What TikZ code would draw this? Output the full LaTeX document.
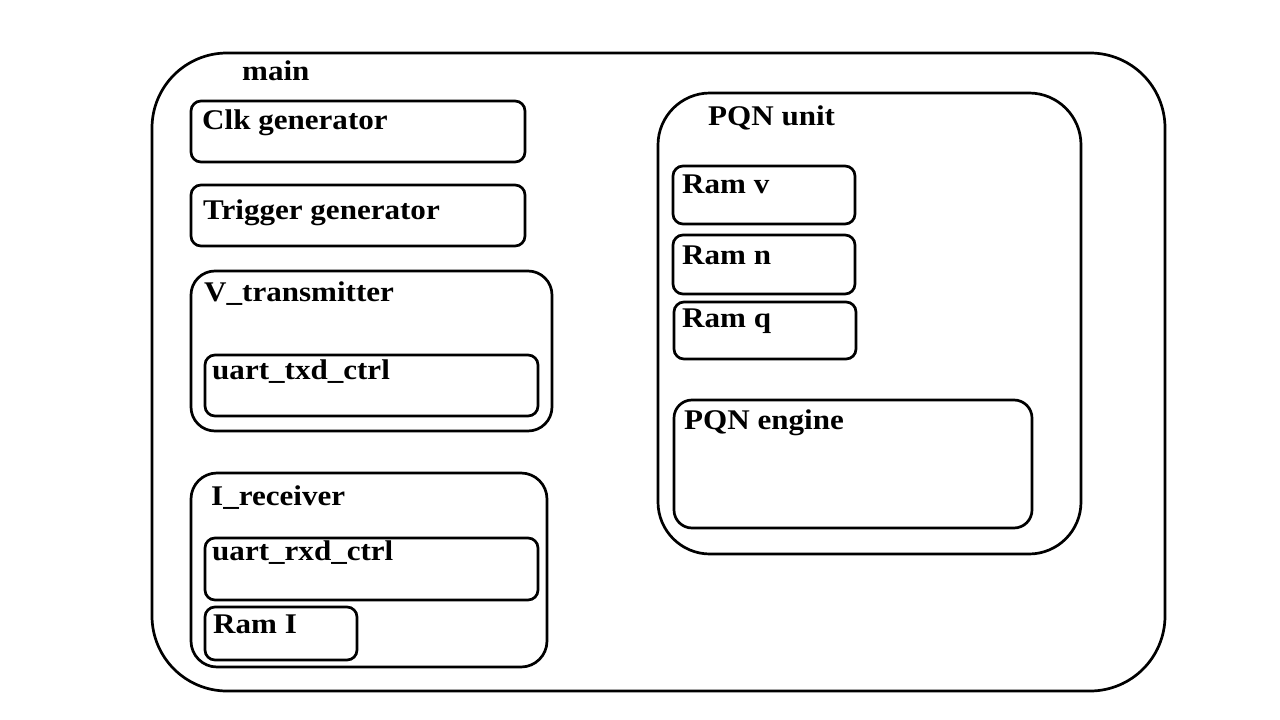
\documentclass[tikz,border=0pt]{standalone}
\usepackage{fontspec}
\setmainfont{Liberation Serif}[FakeStretch=1.09]
\begin{document}
\begin{tikzpicture}[x=1pt,y=-1pt,
  box/.style={draw=black,line width=2.7pt,rounded corners=#1},
  box/.default=10pt,
  lbl/.style={anchor=base west,inner sep=0pt,font=\fontsize{28.5}{30}\selectfont\bfseries}]
\useasboundingbox[fill=white] (0,0) rectangle (1280,720);
% outer main
\draw[box=75pt] (152,53) rectangle (1165,691);
\node[lbl] (tmain) at (242,80) {main};
% left column
\draw[box] (191,101) rectangle (525,162);
\node[lbl] (tclk) at (202,129) {Clk generator};
\draw[box] (191,185) rectangle (525,246);
\node[lbl] (ttrig) at (203,219) {Trigger generator};
\draw[box=24pt] (191,271) rectangle (552,431);
\node[lbl] (tvt) at (204,301) {V\_transmitter};
\draw[box] (205,355) rectangle (538,416);
\node[lbl] (ttxd) at (212,379) {uart\_txd\_ctrl};
\draw[box=26pt] (191,473) rectangle (547,667);
\node[lbl] (tir) at (211,505) {I\_receiver};
\draw[box] (205,538) rectangle (538,600);
\node[lbl] (trxd) at (212,560) {uart\_rxd\_ctrl};
\draw[box] (205,607) rectangle (357,660);
\node[lbl] (tri) at (213,633) {Ram I};
% right column
\draw[box=52pt] (658,93) rectangle (1081,554);
\node[lbl] (tpqn) at (708,125) {PQN unit};
\draw[box] (673,166) rectangle (855,224);
\node[lbl] (trv) at (682,193) {Ram v};
\draw[box] (673,235) rectangle (855,294);
\node[lbl] (trn) at (682,264) {Ram n};
\draw[box] (674,302) rectangle (856,359);
\node[lbl] (trq) at (682,327) {Ram q};
\draw[box=18pt] (674,400) rectangle (1032,528);
\node[lbl] (teng) at (684,429) {PQN engine};
\end{tikzpicture}
\end{document}
